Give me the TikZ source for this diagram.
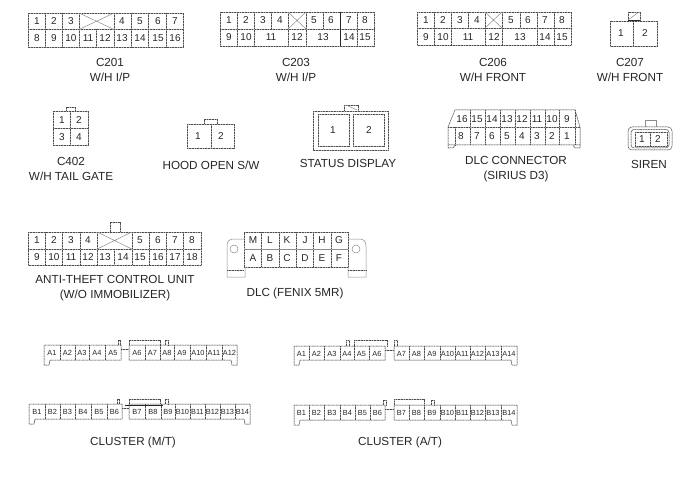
\documentclass[tikz,border=0pt]{standalone}
\usepackage{fontspec}
\setmainfont{Liberation Sans}
\newcommand{\pinrow}[3]{% prefix, y, list of x/label
  \foreach \px/\lb in {#3} {\node[pinlabel] (#1-\lb) at (\px,#2) {\lb};}}
\newcommand{\smallrow}[3]{%
  \foreach \px/\lb in {#3} {\node[smallpin] (#1-\lb) at (\px,#2) {\lb};}}
\newcommand{\vlines}[3]{% y1,y2,list of x
  \foreach \vx in {#3} {\draw[conn] (\vx,#1) -- (\vx,#2);}}
% x0,x1,ytop,ybot,gapL,gapR,dividers
\newcommand{\clusterbody}[7]{%
  \draw[conn] (#5,#3) -- (#1,#3) -- (#1,#4+5) -- (#1+5,#4+5) -- (#1+6,#4) -- (#5,#4) -- cycle;
  \draw[conn] (#6,#3) -- (#2,#3) -- (#2,#4+5) -- (#2-5,#4+5) -- (#2-6,#4) -- (#6,#4) -- cycle;
  \draw[conn] (#5,#3+4) -- (#6,#3+4);
  \vlines{#3}{#4}{#7}}
\newcommand{\tabbox}[4]{% x0,x1,ytop,ybot
  \draw[conn] (#1,#4) -- (#1,#3) -- (#2,#3) -- (#2,#4);}
\tikzset{
  x=1pt,y=-1pt,
  conn/.style={draw=black!70,line width=.5pt,dash pattern=on .9pt off .7pt,preaction={draw=black!32,solid,line width=.5pt}},
  plainline/.style={draw=black!45,line width=.5pt},
  heavyline/.style={draw=black!85,line width=1pt},
  pinlabel/.style={inner sep=0pt,font=\fontsize{10}{10}\selectfont,text=black!85},
  smallpin/.style={inner sep=0pt,font=\fontsize{7.4}{8}\selectfont,text=black!85},
  captext/.style={inner sep=0pt,align=center,font=\fontsize{11.7}{15}\selectfont,text=black!85}
}
\begin{document}
\begin{tikzpicture}
\useasboundingbox (0,0) rectangle (700,489);
% C201
\draw[conn] (28,13) rectangle (183,47);
\draw[conn] (28,29.5) -- (183,29.5);
\vlines{13}{47}{45,62,79,114,131,148,166}
\vlines{29.5}{47}{96}
\draw[plainline] (79,13) -- (114,29.5) (79,29.5) -- (114,13);
\pinrow{c201}{21.5}{37/1,54/2,71/3,122/4,140/5,158/6,175/7}
\pinrow{c201}{38.5}{37/8,54/9,71/10,88/11,105/12,122/13,140/14,158/15,175/16}
\node[captext] (c201cap) at (110,69.5) {C201\\W/H I/P};
% C203
\draw[conn] (220,12) rectangle (374,46);
\draw[conn] (220,29) -- (374,29);
\vlines{12}{46}{237,254,288,306,340,357}
\vlines{12}{29}{271,323}
\draw[plainline] (288,12) -- (306,29) (288,29) -- (306,12);
\draw[heavyline] (340,12) -- (340,46);
\pinrow{c203}{20.5}{229/1,246/2,263/3,280/4,314/5,331/6,349/7,365/8}
\pinrow{c203}{37.5}{229/9,246/10,271/11,297/12,323/13,349/14,365/15}
\node[captext] (c203cap) at (296,69.5) {C203\\W/H I/P};
% C206
\draw[conn] (417,12) rectangle (571,45);
\draw[conn] (417,28) -- (571,28);
\vlines{12}{45}{434,451,485,502,537,554}
\vlines{12}{28}{468,520}
\draw[plainline] (485,12) -- (502,28) (485,28) -- (502,12);
\pinrow{c206}{20.5}{426/1,443/2,460/3,477/4,511/5,528/6,545/7,562/8}
\pinrow{c206}{37}{426/9,443/10,468/11,494/12,520/13,545/14,562/15}
\node[captext] (c206cap) at (493,69.5) {C206\\W/H FRONT};
% C207
\draw[conn] (610,21) rectangle (657,46);
\vlines{21}{46}{633}
\draw[conn] (628,21) -- (628,12) -- (640,12) -- (640,21);
\draw[plainline] (628,20) -- (639,12);
\draw[heavyline] (628,20.5) -- (640,20.5);
\pinrow{c207}{33.5}{621/1,645/2}
\node[captext] (c207cap) at (630,69.5) {C207\\W/H FRONT};
% C402
\draw[conn] (53,111) rectangle (88,145);
\draw[conn] (53,128) -- (88,128);
\vlines{111}{145}{70.5}
\tabbox{66}{75}{107}{111}
\pinrow{c402}{120}{62/1,79/2}
\pinrow{c402}{137}{62/3,79/4}
\node[captext] (c402cap) at (71,168.5) {C402\\W/H TAIL GATE};
% Hood
\draw[conn] (187,124) rectangle (234,148);
\vlines{124}{148}{211}
\tabbox{204}{217}{119}{124}
\pinrow{hood}{136.5}{198/1,221/2}
\node[captext] (hoodcap) at (211,165) {HOOD OPEN S/W};
% Status
\draw[conn] (313,111) rectangle (388,150);
\draw[conn] (318,114) rectangle (349,146);
\draw[conn] (353,114) rectangle (384,146);
\tabbox{344}{358}{105}{111}
\draw[plainline] (346,105) -- (357,110);
\pinrow{status}{130}{333/1,369/2}
\node[captext] (statuscap) at (348,163) {STATUS DISPLAY};
% DLC connector
\draw[conn] (448,127) -- (455,110) -- (575,110) -- (580,127) -- (580,145) -- (448,145) -- cycle;
\draw[conn] (448,127) -- (580,127);
\draw[conn] (448,145) -- (448,148) -- (453,148) -- (455,145);
\draw[conn] (580,145) -- (580,148) -- (575,148) -- (573,145);
\vlines{110}{145}{470,485,500,515,530,545,559,575}
\vlines{127}{145}{455}
\pinrow{dlc}{119}{462/16,477/15,492/14,507/13,522/12,537/11,552/10,567/9}
\pinrow{dlc}{136}{461/8,477/7,492/6,507/5,522/4,537/3,552/2,567/1}
\node[captext] (dlccap) at (516,169) {DLC CONNECTOR\\(SIRIUS D3)};
% Siren
\draw[conn,rounded corners=4pt] (628,127) rectangle (672,150);
\draw[conn,rounded corners=3pt] (631,129.5) rectangle (669,148);
\draw[conn] (635,132) rectangle (667,146);
\vlines{132}{146}{650}
\draw[plainline] (645,127) -- (645,120) -- (656,120) -- (656,127);
\pinrow{siren}{139.5}{642/1,658/2}
\node[captext] (sirencap) at (649,164) {SIREN};
% Anti-theft
\draw[conn] (28,232) rectangle (201,265);
\draw[conn] (28,249) -- (201,249);
\vlines{232}{265}{45.3,62.6,79.9,97.2,131.8,149.1,166.4,183.7}
\vlines{249}{265}{114.5}
\draw[plainline] (97.2,232) -- (131.8,249) (97.2,249) -- (131.8,232);
\tabbox{110}{120}{222}{232}
\pinrow{anti}{240.5}{37/1,54/2,71/3,88/4,140/5,158/6,175/7,192/8}
\pinrow{anti}{257.5}{37/9,54/10,71/11,88/12,105/13,123/14,140/15,158/16,175/17,192/18}
\node[captext] (anticap) at (115,288.5) {ANTI-THEFT CONTROL UNIT\\(W/O IMMOBILIZER)};
% DLC Fenix
\draw[conn] (244,267) -- (244,232) -- (348,232) -- (348,267) -- cycle;
\draw[plainline] (244,249) -- (348,249);
\vlines{232}{267}{261,279,296,313,331}
\draw[plainline] (244,239) -- (233,239) .. controls (229,239) and (227,242) .. (227,246) -- (227,277) -- (245,277) -- (245,267);
\draw[conn] (227,270) -- (244,270);
\draw[plainline] (348,239) -- (360,239) .. controls (364,239) and (366,242) .. (366,246) -- (366,277) -- (348,277) -- (348,267);
\draw[conn] (348,270) -- (366,270);
\draw[plainline] (234,249) circle[radius=4];
\draw[plainline] (356,249) circle[radius=4];
\pinrow{fenix}{240.5}{253/M,270/L,287/K,305/J,322/H,339/G}
\pinrow{fenix}{258}{253/A,270/B,287/C,305/D,322/E,339/F}
\node[captext] (fenixcap) at (295,293) {DLC (FENIX 5MR)};
% Cluster M/T A
\clusterbody{44}{237}{345}{360}{121}{129}{60,75,89,105,145,160,174,190,206,222}
\tabbox{129}{160}{340}{345}
\tabbox{118}{120}{340}{345}
\tabbox{165}{168}{340}{345}
\smallrow{mta}{353}{52/A1,67.5/A2,82/A3,97/A4,113/A5,137/A6,152.5/A7,167/A8,182/A9,198/A10,214/A11,229.5/A12}
% Cluster M/T B
\clusterbody{29}{250}{404}{419}{122}{129}{45,60,75,91,107,145,161,175,190,205,220,235}
\tabbox{129}{160}{399}{404}
\tabbox{117}{119}{399}{404}
\tabbox{165}{168}{399}{404}
\draw[heavyline] (125,405) -- (163,405);
\smallrow{mtb}{412}{37/B1,52.5/B2,67.5/B3,83/B4,99/B5,114.5/B6,137/B7,153/B8,168/B9,182.5/B10,197.5/B11,212.5/B12,227.5/B13,242.5/B14}
\node[captext] (mtcap) at (133,442) {CLUSTER (M/T)};
% Cluster A/T A
\clusterbody{294}{517}{346}{360}{385}{394}{309,324,340,354,369,409,424,440,455,470,485,501}
\tabbox{354}{387}{340}{346}
\tabbox{346}{349}{340}{346}
\tabbox{394}{397}{340}{346}
\smallrow{ata}{353.5}{301.5/A1,316.5/A2,332/A3,347/A4,361.5/A5,377/A6,401.5/A7,416.5/A8,432/A9,447.5/A10,462.5/A11,477.5/A12,493/A13,509/A14}
% Cluster A/T B
\clusterbody{294}{517}{405}{420}{385}{394}{309,324,340,355,370,409,424,440,455,470,485,501}
\tabbox{394}{424}{399}{405}
\tabbox{383}{386}{400}{405}
\tabbox{431}{434}{400}{405}
\smallrow{atb}{412.5}{301.5/B1,316.5/B2,332/B3,347.5/B4,362.5/B5,377.5/B6,401.5/B7,416.5/B8,432/B9,447.5/B10,462.5/B11,477.5/B12,493/B13,509/B14}
\node[captext] (atcap) at (400,442) {CLUSTER (A/T)};
\end{tikzpicture}
\end{document}
